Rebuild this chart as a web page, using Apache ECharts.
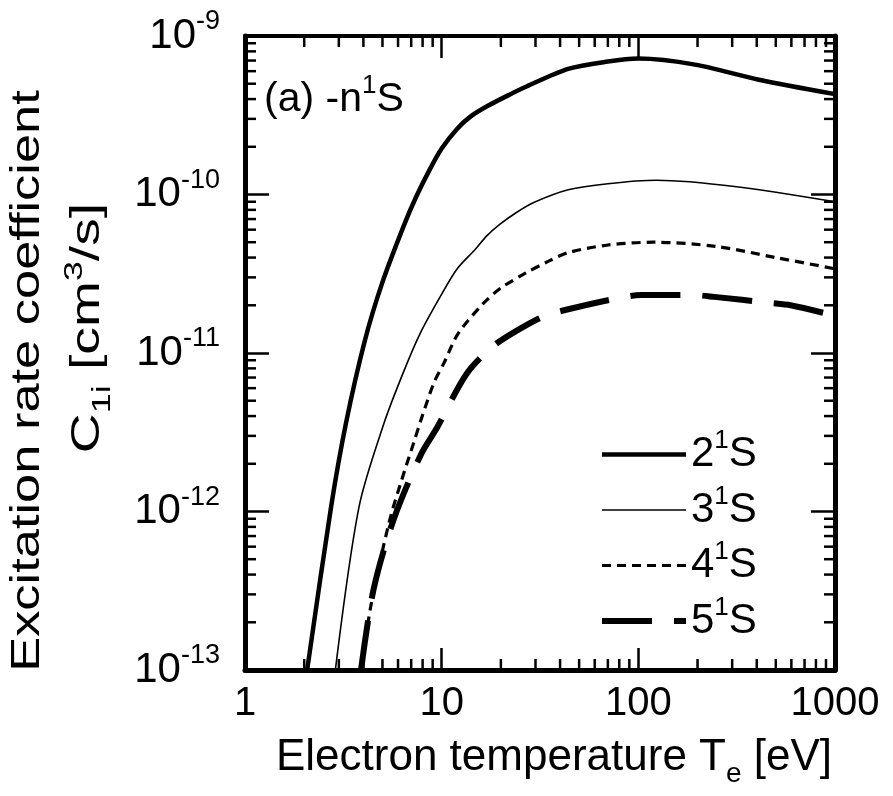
<!DOCTYPE html>
<html>
<head>
<meta charset="utf-8">
<script src="https://cdn.jsdelivr.net/npm/echarts@6/dist/echarts.min.js"></script>
<style>
html,body{margin:0;padding:0;background:#fff;}
#chart{width:893px;height:796px;}
</style>
</head>
<body>
<div id="chart"></div>
<script>
// Electron temperature (eV) and excitation rate coefficient C (cm^3/s)
const T_2S = [2.07, 2.74, 3.26, 4.07, 5.0, 6.4, 7.4, 8.6, 10, 12, 14, 17, 22, 27, 44, 70, 100, 194, 410, 1000];
const C_2S = [1e-13, 1.07e-12, 3.6e-12, 1.2e-11, 2.8e-11, 6.3e-11, 9.6e-11, 1.4e-10, 1.95e-10, 2.6e-10, 3.1e-10, 3.6e-10, 4.25e-10, 4.8e-10, 6.2e-10, 6.9e-10, 7.2e-10, 6.6e-10, 5.3e-10, 4.3e-10];

const T_3S = [2.88, 3.8, 5.09, 6.4, 7.8, 10, 12, 14.8, 17, 19.8, 24, 29.4, 44, 70, 124, 316, 1000];
const C_3S = [1e-13, 1.07e-12, 3.6e-12, 7.6e-12, 1.34e-11, 2.35e-11, 3.4e-11, 4.5e-11, 5.5e-11, 6.5e-11, 7.7e-11, 8.9e-11, 1.07e-10, 1.17e-10, 1.23e-10, 1.12e-10, 9.0e-11];

const T_4S = [3.89, 4.38, 5.4, 6.28, 7.2, 7.86, 9.14, 10.3, 12.1, 16.2, 20, 26.8, 35, 44, 70, 119, 250, 500, 1000];
const C_4S = [1e-13, 2.6e-13, 8.5e-13, 1.6e-12, 2.7e-12, 3.8e-12, 6.5e-12, 8.7e-12, 1.32e-11, 2.04e-11, 2.57e-11, 3.2e-11, 3.8e-11, 4.3e-11, 4.8e-11, 5.0e-11, 4.7e-11, 4.0e-11, 3.4e-11];

const T_5S = [3.89, 4.5, 5.7, 7.86, 9.5, 13.4, 18.2, 24, 32.9, 41.9, 78.8, 103, 188, 243, 465, 595, 1000];
const C_5S = [1e-13, 3.2e-13, 8.9e-13, 2.3e-12, 3.4e-12, 7.4e-12, 1.1e-11, 1.38e-11, 1.7e-11, 1.86e-11, 2.22e-11, 2.32e-11, 2.32e-11, 2.26e-11, 2.07e-11, 2.0e-11, 1.72e-11];

const levels = ['2', '3', '4', '5'];
const xTickLabels = ['1', '10', '100', '1000'];

const FONT = 'Liberation Sans';

function pairs(xs, ys) { return xs.map((x, i) => [x, ys[i]]); }

// minor tick positions (2..9 in every decade)
const xMinor = [], yMinor = [];
[1, 10, 100].forEach(d => { for (let k = 2; k <= 9; k++) xMinor.push([k * d, 1e-11, 0]); });
[1e-13, 1e-12, 1e-11, 1e-10].forEach(d => { for (let k = 2; k <= 9; k++) yMinor.push([10, k * d, 1]); });

function renderMinor(params, api) {
  const cs = params.coordSys;
  const kind = api.value(2);
  const len = 11;
  const st = { stroke: '#000', lineWidth: 2.5 };
  if (kind === 0) {
    const px = api.coord([api.value(0), 1e-11])[0];
    return { type: 'group', children: [
      { type: 'line', shape: { x1: px, y1: cs.y + cs.height, x2: px, y2: cs.y + cs.height - len }, style: st },
      { type: 'line', shape: { x1: px, y1: cs.y, x2: px, y2: cs.y + len }, style: st }
    ]};
  } else {
    const py = api.coord([10, api.value(1)])[1];
    return { type: 'group', children: [
      { type: 'line', shape: { x1: cs.x, y1: py, x2: cs.x + len, y2: py }, style: st },
      { type: 'line', shape: { x1: cs.x + cs.width, y1: py, x2: cs.x + cs.width - len, y2: py }, style: st }
    ]};
  }
}

function richSet(main, sup) {
  return {
    n: { fontSize: main, fontFamily: FONT, color: '#000', lineHeight: main + 4 },
    s: { fontSize: sup, fontFamily: FONT, color: '#000', lineHeight: sup, padding: [0, 0, Math.round(sup * 1.05), 0] },
    sub: { fontSize: sup, fontFamily: FONT, color: '#000', lineHeight: sup, padding: [Math.round(sup * 1.15), 0, 0, 0] }
  };
}

const chart = echarts.init(document.getElementById('chart'));
const axisLineStyle = { color: '#000', width: 5 };

const option = {
  animation: false,
  backgroundColor: '#fff',
  grid: { left: 245, top: 36, width: 590, height: 634, containLabel: false },
  xAxis: [
    { type: 'log', logBase: 10, min: 1, max: 1000, position: 'bottom',
      axisLine: { show: true, onZero: false, lineStyle: axisLineStyle },
      axisTick: { show: true, inside: true, length: 22, lineStyle: { color: '#000', width: 2.5 } },
      axisLabel: { show: true, margin: 14, fontSize: 40, fontFamily: FONT, color: '#000',
        formatter: (v) => xTickLabels[Math.round(Math.log10(v))] },
      splitLine: { show: false } },
    { type: 'log', logBase: 10, min: 1, max: 1000, position: 'top',
      axisLine: { show: true, onZero: false, lineStyle: { color: '#000', width: 4 } },
      axisTick: { show: true, inside: true, length: 22, lineStyle: { color: '#000', width: 2.5 } },
      axisLabel: { show: false }, splitLine: { show: false } }
  ],
  yAxis: [
    { type: 'log', logBase: 10, min: 1e-13, max: 1e-9, position: 'left',
      axisLine: { show: true, onZero: false, lineStyle: axisLineStyle },
      axisTick: { show: true, inside: true, length: 24, lineStyle: { color: '#000', width: 2.5 } },
      axisLabel: { show: true, margin: 25,
        formatter: (v) => '{n|10}{s|' + Math.round(Math.log10(v)) + '}',
        rich: richSet(42, 27) },
      splitLine: { show: false } },
    { type: 'log', logBase: 10, min: 1e-13, max: 1e-9, position: 'right',
      axisLine: { show: true, onZero: false, lineStyle: axisLineStyle },
      axisTick: { show: true, inside: true, length: 24, lineStyle: { color: '#000', width: 2.5 } },
      axisLabel: { show: false }, splitLine: { show: false } }
  ],
  legend: {
    data: levels.map(l => l + '¹S'),
    orient: 'vertical', left: 594, top: 423,
    itemWidth: 84, itemHeight: 14, itemGap: 2.5,
    itemStyle: { color: 'rgba(0,0,0,0)', borderWidth: 0, opacity: 0 },
    lineStyle: { width: 'inherit' },
    formatter: (name) => '{n|' + name[0] + '}{s|1}{n|S}',
    textStyle: { rich: richSet(42, 26) },
    selectedMode: false
  },
  graphic: [
    { type: 'text', left: 264, top: 73, silent: true,
      style: { text: '{n|(a) -n}{s|1}{n|S}', rich: richSet(41, 26) } },
    { type: 'text', x: 28, y: 381, rotation: Math.PI / 2, scaleX: 1.31, silent: true,
      style: { text: 'Excitation rate coefficient', fontSize: 40, fontFamily: FONT, fill: '#000', align: 'center', verticalAlign: 'middle' } },
    { type: 'text', x: 88, y: 328, rotation: Math.PI / 2, scaleX: 1.38, silent: true,
      style: { text: '{n|C}{sub|1i}{n| [cm}{s|3}{n|/s]}', align: 'center', verticalAlign: 'middle',
        rich: richSet(40, 26) } },
    { type: 'text', x: 554, y: 758, silent: true,
      style: { text: '{n|Electron temperature T}{sub|e}{n| [eV]}', align: 'center', verticalAlign: 'middle',
        rich: richSet(44, 28) } }
  ],
  series: [
    { name: '2¹S', type: 'line', data: pairs(T_2S, C_2S), symbol: 'none', smooth: 0.3,
      lineStyle: { color: '#000', width: 4.5 }, itemStyle: { color: '#000' }, clip: true },
    { name: '3¹S', type: 'line', data: pairs(T_3S, C_3S), symbol: 'none', smooth: 0.3,
      lineStyle: { color: '#000', width: 1.6 }, itemStyle: { color: '#000' }, clip: true },
    { name: '4¹S', type: 'line', data: pairs(T_4S, C_4S), symbol: 'none', smooth: 0.3,
      lineStyle: { color: '#000', width: 3.2, type: [9, 6] }, itemStyle: { color: '#000' }, clip: true },
    { name: '5¹S', type: 'line', data: pairs(T_5S, C_5S), symbol: 'none', smooth: 0.3,
      lineStyle: { color: '#000', width: 6, type: [50, 22] }, itemStyle: { color: '#000' }, clip: true },
    { name: 'minorTicks', type: 'custom', data: xMinor.concat(yMinor), renderItem: renderMinor,
      silent: true, clip: false, z: 5 }
  ]
};
chart.setOption(option);
</script>
</body>
</html>
